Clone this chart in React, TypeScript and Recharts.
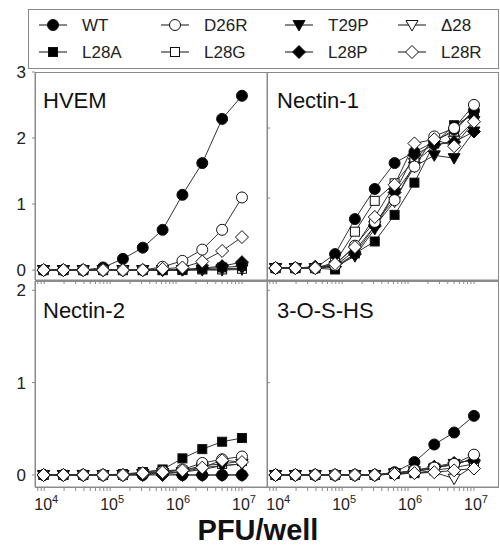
import { LineChart, Line, XAxis, YAxis } from "recharts";

// virus dose per well, 2-fold dilutions
const doses = [9766, 19531, 39063, 78125, 156250, 312500, 625000, 1250000, 2500000, 5000000, 10000000];
const decadeTicks = [10000, 100000, 1000000, 10000000];
const decadeExponents = ["4", "5", "6", "7"];
const minorTicks = [
  8000, 9000, 20000, 30000, 40000, 50000, 60000, 70000, 80000, 90000,
  200000, 300000, 400000, 500000, 600000, 700000, 800000, 900000,
  2000000, 3000000, 4000000, 5000000, 6000000, 7000000, 8000000, 9000000,
];
const mutants = ["WT", "D26R", "T29P", "Δ28", "L28A", "L28G", "L28P", "L28R"];

const hvem: Record<string, number[]> = {
  WT: [0, 0, 0, 0.04, 0.17, 0.34, 0.61, 1.14, 1.62, 2.29, 2.64],
  D26R: [0, 0, 0, 0, 0, 0, 0.05, 0.14, 0.31, 0.61, 1.1],
  T29P: [0, 0, 0, 0, 0, 0, 0, 0, 0.01, 0.02, 0.03],
  "Δ28": [0, 0, 0, 0, 0, 0, 0, 0, 0, 0, 0.01],
  L28A: [0, 0, 0, 0, 0, 0, 0, 0.01, 0.02, 0.04, 0.06],
  L28G: [0, 0, 0, 0, 0, 0, 0, 0, 0.01, 0.01, 0.02],
  L28P: [0, 0, 0, 0, 0, 0, 0, 0.01, 0.03, 0.06, 0.12],
  L28R: [0, 0, 0, 0, 0, 0, 0.02, 0.04, 0.13, 0.29, 0.5],
};

const nectin1: Record<string, number[]> = {
  WT: [0, 0, 0, 0.2, 0.7, 1.13, 1.5, 1.66, 1.8, 1.98, 2.25],
  D26R: [0, 0, 0, 0.04, 0.32, 0.66, 0.97, 1.45, 1.88, 2.0, 2.33],
  T29P: [0, 0, 0, 0.02, 0.17, 0.56, 1.07, 1.45, 1.61, 1.57, 1.95],
  "Δ28": [0, 0, 0, 0.03, 0.25, 0.6, 0.95, 1.5, 1.75, 1.82, 2.1],
  L28A: [0, 0, 0, -0.02, 0.21, 0.38, 0.76, 1.22, 1.78, 2.04, 2.19],
  L28G: [0, 0, 0, 0.08, 0.52, 0.96, 1.21, 1.55, 1.82, 1.95, 2.25],
  L28P: [0, 0, 0.02, 0.02, 0.2, 0.6, 1.08, 1.62, 1.76, 1.8, 1.95],
  L28R: [0, 0, 0, 0.06, 0.3, 0.73, 1.19, 1.78, 1.84, 1.74, 2.09],
};

const nectin2: Record<string, number[]> = {
  WT: [0, 0, 0, 0, 0, 0, 0.02, 0, 0, 0, 0],
  D26R: [0, 0, 0, 0, 0, 0.02, 0.04, 0.06, 0.13, 0.17, 0.2],
  T29P: [0, 0, 0, 0, 0, 0.01, 0.02, 0.03, 0.08, 0.1, 0.12],
  "Δ28": [0, 0, 0, 0, 0, 0.01, 0.02, 0.03, 0.06, 0.1, 0.12],
  L28A: [0, 0, 0, 0, 0.01, 0.03, 0.06, 0.18, 0.28, 0.36, 0.4],
  L28G: [0, 0, 0, 0, 0, 0.03, 0.05, 0.05, 0.1, 0.12, 0.15],
  L28P: [0, 0, 0, 0, 0, 0, 0, 0, 0, 0, 0],
  L28R: [0, 0, 0, 0, 0, 0.02, 0.03, 0.05, 0.08, 0.16, 0.14],
};

const heparan: Record<string, number[]> = {
  WT: [0, 0, 0, 0, 0, 0, 0.03, 0.14, 0.33, 0.46, 0.64],
  D26R: [0, 0, 0, 0, 0, 0, 0.02, 0.05, 0.08, 0.12, 0.22],
  T29P: [0, 0, 0, 0, 0, 0, 0.02, 0.04, 0.07, 0.12, 0.17],
  "Δ28": [0, 0, 0, 0, 0, 0, 0.01, 0.02, 0.03, -0.04, 0.1],
  L28A: [0, 0, 0, 0, 0, 0, 0.02, 0.03, 0.08, 0.11, 0.18],
  L28G: [0, 0, 0, 0, 0, 0, 0.01, 0.02, 0.05, 0.08, 0.12],
  L28P: [0, 0, 0, 0, 0, 0, 0.02, 0.05, 0.09, 0.13, 0.16],
  L28R: [0, 0, 0, 0, 0, 0, 0.01, 0.02, 0.03, 0.05, 0.07],
};

type Shape = "circle" | "square" | "triangle" | "diamond";
const looks: Record<string, { shape: Shape; filled: boolean }> = {
  WT: { shape: "circle", filled: true },
  D26R: { shape: "circle", filled: false },
  T29P: { shape: "triangle", filled: true },
  "Δ28": { shape: "triangle", filled: false },
  L28A: { shape: "square", filled: true },
  L28G: { shape: "square", filled: false },
  L28P: { shape: "diamond", filled: true },
  L28R: { shape: "diamond", filled: false },
};
// draw order, last on top
const drawOrder = ["Δ28", "L28G", "T29P", "L28P", "L28A", "WT", "D26R", "L28R"];

const FONT = "'Liberation Sans', Arial, Helvetica, sans-serif";
const FRAME = "#8a8a8a";
const xDomain = [7244, 23988329];

function Sym({ x, y, name }: { x: number; y: number; name: string }) {
  const { shape, filled } = looks[name];
  const p = { fill: filled ? "#000" : "#fff", stroke: "#111", strokeWidth: 1 };
  if (shape === "circle") return <circle cx={x} cy={y} r={5.5} {...p} />;
  if (shape === "square") return <rect x={x - 4.5} y={y - 4.5} width={9} height={9} {...p} />;
  if (shape === "triangle")
    return <polygon points={`${x - 6},${y - 4.5} ${x + 6},${y - 4.5} ${x},${y + 6}`} {...p} />;
  return <polygon points={`${x},${y - 6.5} ${x + 6.5},${y} ${x},${y + 6.5} ${x - 6.5},${y}`} {...p} />;
}

function DecadeTick(props: any) {
  const { x, y, payload } = props;
  const i = decadeTicks.indexOf(payload.value);
  if (i < 0) return <g />;
  return (
    <text x={x + 2} y={y + 17} textAnchor="middle" fontSize={16} fill="#222" fontFamily={FONT}>
      <tspan>10</tspan>
      <tspan dy={-7} fontSize={11}>{decadeExponents[i]}</tspan>
    </text>
  );
}

type PanelProps = {
  values: Record<string, number[]>;
  px: number;
  py: number;
  w: number;
  h: number;
  yDomain: number[];
  yTicks: number[];
  yLabels: boolean;
  xLabels: boolean;
};

function Panel({ values, px, py, w, h, yDomain, yTicks, yLabels, xLabels }: PanelProps) {
  const rows = doses.map((d, i) => {
    const r: Record<string, number> = { dose: d };
    mutants.forEach((m) => (r[m] = values[m][i]));
    return r;
  });
  // a mirrored y axis takes no width, so the margin alone sets the plot's left edge
  const left = yLabels ? px - 30 : px;
  return (
    <div style={{ position: "absolute", left: 0, top: 0 }}>
      <LineChart
        width={500}
        height={546}
        data={rows}
        margin={{ top: py, left, right: 500 - px - w, bottom: 546 - py - h - 30 }}
      >
        <XAxis
          dataKey="dose"
          type="number"
          scale="log"
          domain={xDomain}
          allowDataOverflow
          ticks={[...decadeTicks, ...minorTicks].sort((a, b) => a - b)}
          interval={0}
          height={30}
          tickSize={4}
          stroke={FRAME}
          tick={xLabels ? <DecadeTick /> : () => <g />}
        />
        <YAxis
          type="number"
          domain={yDomain}
          allowDataOverflow
          ticks={yTicks}
          interval={0}
          width={30}
          tickSize={3}
          tickMargin={6}
          stroke={FRAME}
          mirror={!yLabels}
          tick={yLabels ? { fontSize: 17, fill: "#222", fontFamily: FONT } : () => <g />}
        />
        {drawOrder.map((m) => (
          <Line
            key={m}
            dataKey={m}
            stroke="#333"
            strokeWidth={1}
            isAnimationActive={false}
            dot={(p: any) => <Sym key={`${m}-${p.index}`} x={p.cx} y={p.cy} name={m} />}
          />
        ))}
      </LineChart>
    </div>
  );
}

const legendCols = [53, 175, 299, 412];
const legendRows = [25, 52];
const legendLayout = [
  ["WT", "D26R", "T29P", "Δ28"],
  ["L28A", "L28G", "L28P", "L28R"],
];

export default function App() {
  return (
    <div style={{ position: "relative", width: 500, height: 546, background: "#fff", fontFamily: FONT }}>
      <style>{"body{margin:0}"}</style>
      <svg width={500} height={546} style={{ position: "absolute", left: 0, top: 0 }}>
        <rect x={28.5} y={9.5} width={470} height={59} fill="none" stroke={FRAME} />
        {legendLayout.map((row, r) =>
          row.map((m, c) => (
            <g key={m}>
              <line x1={legendCols[c] - 14} x2={legendCols[c] + 14} y1={legendRows[r]} y2={legendRows[r]} stroke="#111" />
              <Sym x={legendCols[c]} y={legendRows[r]} name={m} />
              <text x={legendCols[c] + 29} y={legendRows[r] + 6} fontSize={17} fill="#222" fontFamily={FONT}>
                {m}
              </text>
            </g>
          ))
        )}
        <rect x={35.5} y={72.5} width={463} height={208} fill="none" stroke={FRAME} />
        <rect x={35.5} y={281.5} width={463} height={206} fill="none" stroke={FRAME} />
        <line x1={267.5} x2={267.5} y1={72} y2={488} stroke={FRAME} />
        <text x={43} y={108} fontSize={22} fill="#111" fontFamily={FONT}>HVEM</text>
        <text x={277} y={108} fontSize={22} fill="#111" fontFamily={FONT}>Nectin-1</text>
        <text x={43} y={318} fontSize={22} fill="#111" fontFamily={FONT}>Nectin-2</text>
        <text x={277} y={318} fontSize={22} fill="#111" fontFamily={FONT}>3-O-S-HS</text>
        <text x={258} y={540} fontSize={29} fontWeight="bold" textAnchor="middle" fill="#111" fontFamily={FONT}>
          PFU/well
        </text>
      </svg>
      <Panel values={hvem} px={35} py={72} w={232} h={208} yDomain={[-0.15, 3]} yTicks={[0, 1, 2, 3]} yLabels xLabels={false} />
      <Panel values={nectin1} px={267} py={72} w={232} h={208} yDomain={[-0.17, 2.8]} yTicks={[0, 1, 2]} yLabels={false} xLabels={false} />
      <Panel values={nectin2} px={35} py={281} w={232} h={206} yDomain={[-0.13, 2.1]} yTicks={[0, 1, 2]} yLabels xLabels />
      <Panel values={heparan} px={267} py={281} w={232} h={206} yDomain={[-0.13, 2.1]} yTicks={[0, 1, 2]} yLabels={false} xLabels />
    </div>
  );
}
